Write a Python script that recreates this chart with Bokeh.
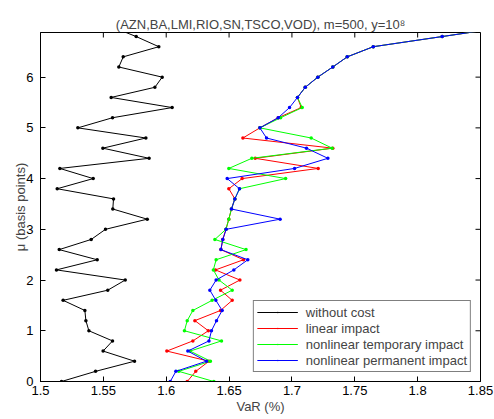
import math
from bokeh.plotting import figure
from bokeh.models import Range1d, FixedTicker, Legend, LegendItem
from bokeh.embed import file_html
from bokeh.resources import INLINE

# ---------------- data ----------------
mu = [0.0, 0.2, 0.4, 0.6, 0.8, 1.0, 1.2, 1.4, 1.6, 1.8,
      2.0, 2.2, 2.4, 2.6, 2.8, 3.0, 3.2, 3.4, 3.6, 3.8,
      4.0, 4.2, 4.4, 4.6, 4.8, 5.0, 5.2, 5.4, 5.6, 5.8,
      6.0, 6.2, 6.4, 6.6, 6.8, 7.0]

var_without_cost = [1.5167, 1.5438, 1.5748, 1.5498, 1.5573, 1.5385, 1.5361, 1.5353, 1.5180, 1.5535,
                    1.5674, 1.5127, 1.5451, 1.5149, 1.5403, 1.5517, 1.5849, 1.5575, 1.5581, 1.5133,
                    1.5419, 1.5154, 1.5864, 1.5496, 1.5838, 1.5297, 1.5573, 1.6047, 1.5562, 1.5910,
                    1.5968, 1.5623, 1.5658, 1.5941, 1.5761, 1.5560]

var_linear = [1.6167, 1.6235, 1.6340, 1.6005, 1.6212, 1.6335, 1.6228, 1.6432, 1.6525, 1.6432,
              1.6586, 1.6392, 1.6615, 1.6435, 1.6450, 1.6475, 1.6498, 1.6519, 1.6546, 1.6498,
              1.6604, 1.7209, 1.6708, 1.7325, 1.6610, 1.6745, 1.6891, 1.7074, 1.7044, 1.7106,
              1.7206, 1.7325, 1.7440, 1.7647, 1.8195, 1.8740]

var_nl_temporary = [1.6379, 1.6100, 1.6352, 1.6190, 1.6440, 1.6145, 1.6167, 1.6212, 1.6365, 1.6525,
                    1.6420, 1.6375, 1.6397, 1.6635, 1.6387, 1.6475, 1.6498, 1.6519, 1.6546, 1.6583,
                    1.6950, 1.6498, 1.6681, 1.7320, 1.7153, 1.6745, 1.6910, 1.7082, 1.7044, 1.7106,
                    1.7206, 1.7325, 1.7440, 1.7647, 1.8195, 1.8740]

var_nl_permanent = [1.6032, 1.6077, 1.6320, 1.6172, 1.6340, 1.6360, 1.6400, 1.6445, 1.6395, 1.6347,
                    1.6397, 1.6538, 1.6649, 1.6435, 1.6450, 1.6477, 1.6906, 1.6519, 1.6546, 1.6583,
                    1.6485, 1.7021, 1.7286, 1.7116, 1.6798, 1.6745, 1.6891, 1.6981, 1.7044, 1.7106,
                    1.7206, 1.7325, 1.7440, 1.7647, 1.8195, 1.8740]

series_names = ["without cost", "linear impact", "nonlinear temporary impact", "nonlinear permanent impact"]
series_values = [var_without_cost, var_linear, var_nl_temporary, var_nl_permanent]
series_colors = ["#000000", "#ff0000", "#00ff00", "#0000ff"]

x_min, x_max = 1.5, 1.85
y_min, y_max = 0.0, 6.88
x_ticks = [1.5, 1.55, 1.6, 1.65, 1.7, 1.75, 1.8, 1.85]
x_tick_labels = ["1.5", "1.55", "1.6", "1.65", "1.7", "1.75", "1.8", "1.85"]
y_ticks = [0, 1, 2, 3, 4, 5, 6]
y_tick_labels = ["0", "1", "2", "3", "4", "5", "6"]

title_text = "(AZN,BA,LMI,RIO,SN,TSCO,VOD), m=500, y=10\u2078"
x_label = "VaR (%)"
y_label = "\u03bc (basis points)"

FONT = "Liberation Sans"

# ---------------- figure ----------------
p = figure(width=494, height=419, output_backend="svg", toolbar_location=None,
           x_range=Range1d(x_min, x_max), y_range=Range1d(y_min, y_max),
           min_border_left=40, min_border_right=14, min_border_top=32, min_border_bottom=38,
           title=title_text)
p.title.text_font = FONT
p.title.text_font_size = "13px"
p.title.text_font_style = "normal"
p.title.align = "center"
p.title.standoff = 2
p.title.offset = 0

p.xgrid.visible = False
p.ygrid.visible = False
p.outline_line_color = "black"
p.outline_line_width = 1
p.background_fill_color = "white"
p.border_fill_color = "white"

for ax in (p.xaxis[0], p.yaxis[0]):
    ax.axis_line_color = "black"
    ax.axis_line_width = 1
    ax.major_tick_in = 5
    ax.major_tick_out = 0
    ax.minor_tick_in = 0
    ax.minor_tick_out = 0
    ax.major_tick_line_color = "black"
    ax.major_label_text_font = FONT
    ax.major_label_text_font_size = "13px"
    ax.major_label_text_color = "black"
    ax.axis_label_text_font = FONT
    ax.axis_label_text_font_style = "normal"
    ax.axis_label_text_font_size = "13px"

xa = p.xaxis[0]
xa.ticker = FixedTicker(ticks=x_ticks)
xa.major_label_overrides = {t: s for t, s in zip(x_ticks, x_tick_labels)}
xa.major_label_standoff = 4
xa.axis_label = x_label
xa.axis_label_standoff = 1

ya = p.yaxis[0]
ya.ticker = FixedTicker(ticks=y_ticks)
ya.major_label_overrides = {t: s for t, s in zip(y_ticks, y_tick_labels)}
ya.major_label_standoff = 7
ya.axis_label = y_label
ya.axis_label_standoff = -5

# inward ticks on the top and right edges of the box (half of each dash is clipped by the frame)
p.scatter(x_ticks, [y_max] * len(x_ticks), marker="dash", size=10, angle=math.pi / 2,
          line_color="black", line_width=1)
p.scatter([x_max] * len(y_ticks), y_ticks, marker="dash", size=10,
          line_color="black", line_width=1)

items = []
for name, vals, col in zip(series_names, series_values, series_colors):
    ln = p.line(vals, mu, line_color=col, line_width=1)
    dt = p.scatter(vals, mu, marker="dot", size=14, line_color=col, fill_color=col, line_width=1)
    items.append(LegendItem(label=name, renderers=[ln, dt]))

legend = Legend(items=items, location="bottom_right")
legend.label_text_font = FONT
legend.label_text_font_size = "13px"
legend.border_line_color = "black"
legend.border_line_width = 1
legend.background_fill_color = "white"
legend.background_fill_alpha = 1
legend.glyph_width = 41
legend.glyph_height = 16
legend.label_height = 16
legend.spacing = 0
legend.padding = 3
legend.margin = 9
legend.label_standoff = 8
p.add_layout(legend)

open("out.html", "w").write(file_html(p, INLINE))
